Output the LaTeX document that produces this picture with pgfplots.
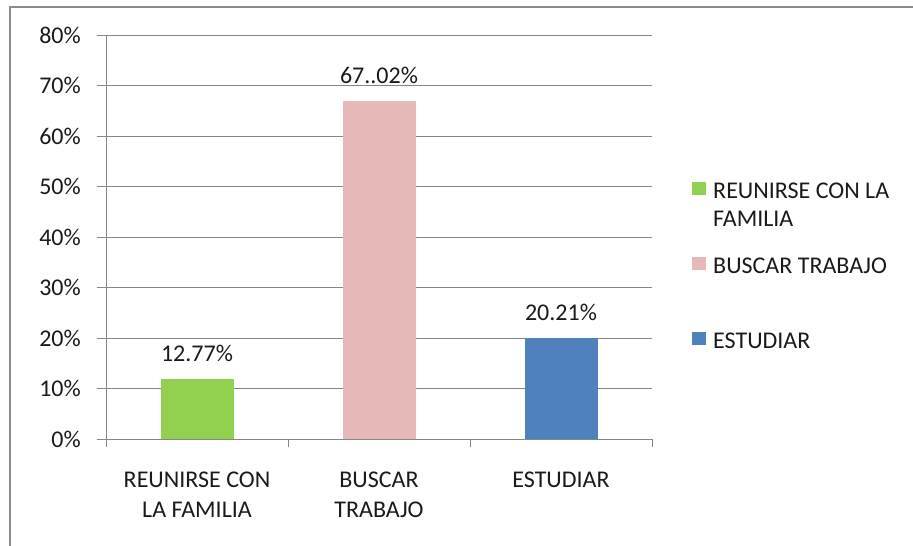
\documentclass[border=0pt]{standalone}
\usepackage{pgfplots}
\pgfplotsset{compat=1.18}
\usepackage{fontspec}
\setmainfont{Carlito}
\definecolor{cgreen}{HTML}{92D050}
\definecolor{cpink}{HTML}{E6B9B8}
\definecolor{cblue}{HTML}{4F81BD}
\definecolor{cgrid}{HTML}{868686}
\definecolor{cframe}{HTML}{8C8C8C}
\definecolor{ctext}{HTML}{1A1A1A}
\newcommand{\lstrut}{\rule[-59pt]{0pt}{75pt}}
\begin{document}
\begin{tikzpicture}
\useasboundingbox (0pt,0pt) rectangle (913pt,-546pt);
\draw[cframe, line width=2pt] (10pt,-546pt) -- (10pt,-7pt) -- (913pt,-7pt);
\begin{axis}[
  at={(106pt,-439pt)}, anchor=south west,
  scale only axis, width=546pt, height=404pt,
  xmin=-0.5, xmax=2.5, ymin=0, ymax=80,
  axis x line*=bottom, axis y line*=left,
  axis line style={-, cgrid, line width=0.8pt},
  font=\fontsize{24}{30}\selectfont,
  /pgf/number format/assume math mode=true,
  ytick={0,10,...,80},
  yticklabel={\pgfmathprintnumber{\tick}\%},
  ymajorgrids, grid style={cgrid, line width=0.8pt},
  tick align=outside, major tick length=9pt, minor tick length=8pt,
  major y tick style={cgrid, line width=0.8pt},
  major x tick style={draw=none},
  minor x tick style={cgrid, line width=0.8pt},
  xtick={0,1,2},
  minor xtick={-0.5,0.5,1.5,2.5},
  xticklabels={{REUNIRSE CON\\LA FAMILIA},{BUSCAR\\TRABAJO},{ESTUDIAR}},
  xticklabel style={align=center, anchor=north, inner sep=0pt, text=ctext, yshift=-24pt},
  yticklabel style={anchor=east, inner sep=0pt, text=ctext, xshift=-16pt},
  ybar, bar width=73pt, /pgf/bar shift=0pt,
  nodes near coords, point meta=explicit symbolic,
  nodes near coords style={anchor=base, inner sep=0pt, yshift=17.5pt, text=ctext},
  legend cell align=left,
  legend image code/.code={\path[fill=none, draw=none] (0pt,-59pt) rectangle (21pt,16pt); \fill[#1, draw=none] (0pt,-4pt) rectangle (14pt,9pt);},
  legend style={at={(1.0733,0.6533)}, anchor=north west, draw=none, fill=none,
    inner sep=0pt, row sep=0pt, nodes={inner sep=0pt, text=ctext},
    /tikz/every even column/.style={column sep=0pt}},
]
\addplot[fill=cgreen, draw=none] coordinates {(0,11.8) [12.77\%]};
\addlegendentry{\lstrut\parbox[t]{200pt}{REUNIRSE CON LA\\[-2pt]FAMILIA}}
\addplot[fill=cpink, draw=none] coordinates {(1,67.02) [67..02\%]};
\addlegendentry{\lstrut BUSCAR TRABAJO}
\addplot[fill=cblue, draw=none] coordinates {(2,20.0) [20.21\%]};
\addlegendentry{\lstrut ESTUDIAR}
\end{axis}
\end{tikzpicture}
\end{document}
